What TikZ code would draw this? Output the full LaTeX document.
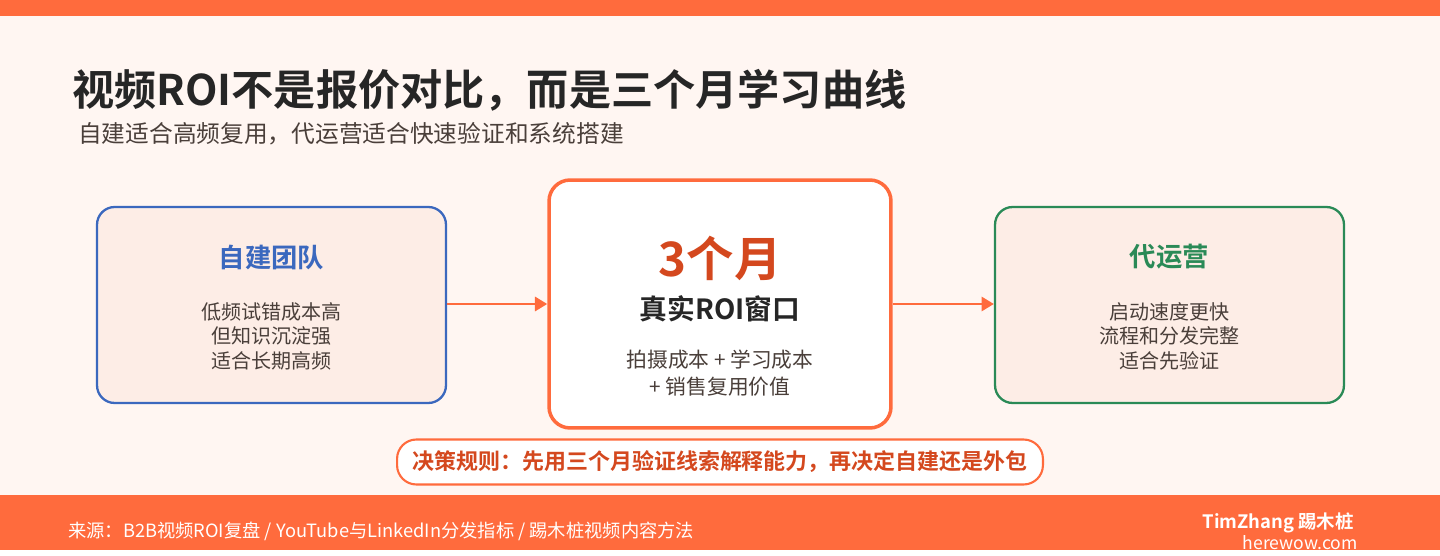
\documentclass[tikz,border=0pt]{standalone}
\usepackage{fontspec}
\usepackage{tikz}
\usetikzlibrary{arrows.meta,positioning}
\setmainfont{Noto Sans CJK SC}
\newfontfamily\cjkbold{Noto Sans CJK SC Bold}
\definecolor{brandorange}{HTML}{FF6B3D}
\definecolor{pagebg}{HTML}{FFF6F2}
\definecolor{boxbg}{HTML}{FDEDE6}
\definecolor{teamblue}{HTML}{3B68BE}
\definecolor{agencygreen}{HTML}{2A8A57}
\definecolor{deepred}{HTML}{D4481E}
\definecolor{bodytext}{HTML}{4A3F3A}
\tikzset{
  sidebox/.style={
    rectangle, rounded corners=10pt, line width=1.3pt, fill=boxbg,
    minimum width=6.98cm, minimum height=3.92cm
  },
  centerbox/.style={
    rectangle, rounded corners=12pt, line width=2pt, draw=brandorange,
    fill=white, minimum width=6.84cm, minimum height=4.96cm
  },
  boxtitle/.style={font=\cjkbold\fontsize{15}{18}\selectfont},
  boxbody/.style={font=\fontsize{11.4}{14}\selectfont, text=bodytext, align=center},
  arrow/.style={-{Triangle[length=7pt,width=8pt]}, line width=1.6pt, brandorange},
}
\begin{document}
\begin{tikzpicture}[x=0.02cm,y=-0.02cm]
  % Background and bars
  \fill[pagebg] (0,0) rectangle (1440,550);
  \fill[brandorange] (0,0) rectangle (1440,16);
  \fill[brandorange] (0,495) rectangle (1440,550);

  % Heading
  \node[anchor=west, font=\cjkbold\fontsize{24}{28}\selectfont, text=black!85] (title) at (66,90)
    {视频ROI不是报价对比，而是三个月学习曲线};
  \node[anchor=west, font=\fontsize{13.5}{16}\selectfont, text=bodytext] (subtitle) at (72,134)
    {自建适合高频复用，代运营适合快速验证和系统搭建};

  % Three boxes
  \node[sidebox, draw=teamblue] (team) at (271.5,305) {};
  \node[centerbox] (window) at (720,304) {};
  \node[sidebox, draw=agencygreen] (agency) at (1169.5,305) {};

  \node[boxtitle, text=teamblue] (teamtitle) at (271.5,257) {自建团队};
  \node[boxbody] (teambody) at (271.5,336) {低频试错成本高\\但知识沉淀强\\适合长期高频};

  \node[font=\cjkbold\fontsize{27}{32}\selectfont, text=deepred] (months) at (720,258) {3个月};
  \node[font=\cjkbold\fontsize{15.8}{19}\selectfont, text=black!85] (windowtitle) at (720,309) {真实ROI窗口};
  \node[boxbody, font=\fontsize{11.8}{15}\selectfont] (windowbody) at (720,373) {拍摄成本 + 学习成本\\+ 销售复用价值};

  \node[boxtitle, text=agencygreen] (agencytitle) at (1169.5,257) {代运营};
  \node[boxbody] (agencybody) at (1169.5,336) {启动速度更快\\流程和分发完整\\适合先验证};

  % Arrows
  \draw[arrow] (team.east |- 0,304) -- (window.west |- 0,304);
  \draw[arrow] (window.east |- 0,304) -- (agency.west |- 0,304);

  % Decision rule
  \node[rectangle, rounded corners=11pt, draw=brandorange, line width=1.2pt, fill=white,
    minimum width=12.92cm, minimum height=0.9cm, font=\cjkbold\fontsize{12.5}{15}\selectfont,
    text=deepred] (rule) at (720,462) {决策规则：先用三个月验证线索解释能力，再决定自建还是外包};

  % Footer
  \node[anchor=west, font=\fontsize{10.4}{12}\selectfont, text=white] (source) at (62,531)
    {来源：B2B视频ROI复盘 / YouTube与LinkedIn分发指标 / 踢木桩视频内容方法};
  \node[anchor=east, font=\cjkbold\fontsize{10.5}{12}\selectfont, text=white] (brand) at (1360,523)
    {TimZhang 踢木桩};
  \node[anchor=east, font=\fontsize{10}{12}\selectfont, text=white] (site) at (1364,543)
    {herewow.com};
\end{tikzpicture}
\end{document}
